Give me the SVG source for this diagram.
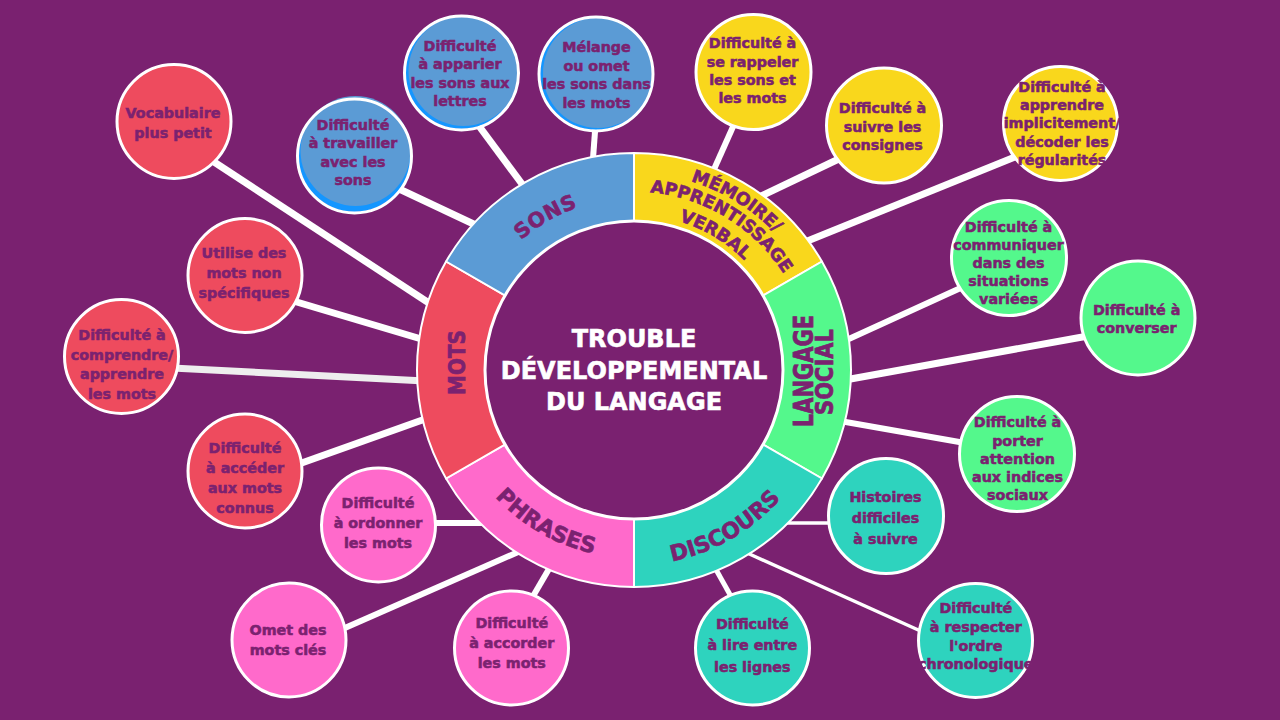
<svg xmlns="http://www.w3.org/2000/svg" xmlns:xlink="http://www.w3.org/1999/xlink" width="1280" height="720" viewBox="0 0 1280 720">
<style>
.bg{fill:#7A2170}
.conn line{stroke:#fff;stroke-width:7}
.conn line.thin{stroke-width:3.5}
.ring path{stroke:#fff;stroke-width:2;stroke-linejoin:round}
.n{stroke:#fff;stroke-width:3}
.rim{fill:none;stroke:#fff;stroke-width:3}
.t{font-family:"DejaVu Sans",Verdana,sans-serif;font-weight:bold;font-size:14.3px;fill:#7B2270;stroke:#7B2270;stroke-width:0.55;text-anchor:middle}
.seg{font-family:"DejaVu Sans",Verdana,sans-serif;font-weight:bold;fill:#7B2270;stroke:#7B2270;stroke-width:0.6;text-anchor:middle}
.ctr{font-family:"DejaVu Sans",Verdana,sans-serif;font-weight:bold;font-size:24px;fill:#fff;stroke:#fff;stroke-width:0.6;text-anchor:middle}
.red{fill:#EE4B5E}.pink{fill:#FF6ACB}.blue{fill:#5B9BD5}.bright{fill:#1496FF}.yel{fill:#F9D71C}.grn{fill:#54F88C}.teal{fill:#2ED3BE}
</style>
<defs>
<path id="pSons" d="M 485.05 284 A 172 172 0 0 1 634 198"/>
<path id="pMem1" d="M 616.79 173.26 A 197.5 197.5 0 0 1 815.80 295.17"/>
<path id="pMem2" d="M 618.49 192.17 A 178.5 178.5 0 0 1 798.31 301.75"/>
<path id="pMem3" d="M 620.45 215.09 A 155.5 155.5 0 0 1 777.14 309.24"/>
<path id="pPhr" d="M 457.34 434.30 A 188 188 0 0 0 666.65 555.14"/>
<path id="pDis" d="M 600.14 562.04 A 195 195 0 0 0 817.24 436.69"/>
</defs>
<rect class="bg" x="0" y="0" width="1280" height="720"/>

<g id="connectors" class="conn">
<line x1="395" y1="187" x2="482" y2="228"/>
<line x1="479" y1="126" x2="528" y2="192"/>
<line x1="595.5" y1="125" x2="592.5" y2="165" style="stroke-width:6"/>
<line x1="736" y1="120" x2="711" y2="176" style="stroke-width:6"/>
<line x1="845" y1="156" x2="755" y2="199"/>
<line x1="1020" y1="155" x2="800" y2="244"/>
<line x1="965" y1="286" x2="840" y2="343" style="stroke-width:6"/>
<line x1="1088" y1="336" x2="845" y2="380"/>
<line x1="965" y1="443" x2="840" y2="421" style="stroke-width:6"/>
<line class="thin" x1="835" y1="523" x2="785" y2="523"/>
<line x1="714" y1="566" x2="733" y2="600" style="stroke-width:5"/>
<line class="thin" x1="745" y1="552" x2="925" y2="633"/>
<line x1="430" y1="523" x2="490" y2="523" style="stroke-width:6"/>
<line x1="338" y1="631" x2="525" y2="549" style="stroke-width:6"/>
<line x1="532" y1="598" x2="553" y2="562" style="stroke-width:6"/>
<line x1="208" y1="158" x2="435" y2="307"/>
<line x1="290" y1="300" x2="428" y2="341"/>
<line x1="172" y1="368" x2="425" y2="381" style="stroke:#EEEEEE"/>
<line x1="296" y1="465" x2="428" y2="418"/>
</g>

<g id="ring" class="ring">
<path class="yel" d="M 634 370 L 634 153 A 217 217 0 0 1 821.93 261.5 Z"/>
<path class="grn" d="M 634 370 L 821.93 261.5 A 217 217 0 0 1 821.93 478.5 Z"/>
<path class="teal" d="M 634 370 L 821.93 478.5 A 217 217 0 0 1 634 587 Z"/>
<path class="pink" d="M 634 370 L 634 587 A 217 217 0 0 1 446.07 478.5 Z"/>
<path class="red" d="M 634 370 L 446.07 478.5 A 217 217 0 0 1 446.07 261.5 Z"/>
<path class="blue" d="M 634 370 L 446.07 261.5 A 217 217 0 0 1 634 153 Z"/>
<text class="seg" font-size="20.5" letter-spacing="0.5"><textPath xlink:href="#pSons" href="#pSons" startOffset="50%">SONS</textPath></text>
<text class="seg" font-size="17.5"><textPath xlink:href="#pMem1" href="#pMem1" startOffset="50%">MÉMOIRE/</textPath></text>
<text class="seg" font-size="17.5"><textPath xlink:href="#pMem2" href="#pMem2" startOffset="50%">APPRENTISSAGE</textPath></text>
<text class="seg" font-size="17.5"><textPath xlink:href="#pMem3" href="#pMem3" startOffset="50%">VERBAL</textPath></text>
<text class="seg" font-size="22"><textPath xlink:href="#pPhr" href="#pPhr" startOffset="50%">PHRASES</textPath></text>
<text class="seg" font-size="22"><textPath xlink:href="#pDis" href="#pDis" startOffset="50%">DISCOURS</textPath></text>
<text class="seg" font-size="20" transform="translate(465,362.5) rotate(-90) scale(1,1.15)">MOTS</text>
<text class="seg" font-size="21" transform="translate(813,371) rotate(-90) scale(1,1.25)">LANGAGE</text>
<text class="seg" font-size="21" transform="translate(833,372) rotate(-90) scale(1,1.2)">SOCIAL</text>
</g>

<g id="center">
<circle cx="634" cy="370" r="149" fill="#7A2170" stroke="#fff" stroke-width="3"/>
<text class="ctr" x="634" y="347">TROUBLE</text>
<text class="ctr" x="634" y="378.5">DÉVELOPPEMENTAL</text>
<text class="ctr" x="634" y="410">DU LANGAGE</text>
</g>

<g id="n1">
<circle class="bright" cx="354.5" cy="156" r="56"/>
<circle class="blue" cx="355.5" cy="151" r="55"/>
<circle class="rim" cx="354.5" cy="156" r="57"/>
<text class="t" x="353" y="130">Difficulté</text>
<text class="t" x="353" y="148.3">à travailler</text>
<text class="t" x="353" y="166.7">avec les</text>
<text class="t" x="353" y="185">sons</text>
</g>
<g id="n2">
<circle class="bright" cx="461.5" cy="73" r="56"/>
<circle class="blue" cx="463.5" cy="71" r="55"/>
<circle class="rim" cx="461.5" cy="73" r="57"/>
<text class="t" x="460" y="51">Difficulté</text>
<text class="t" x="460" y="69.3">à apparier</text>
<text class="t" x="460" y="87.7">les sons aux</text>
<text class="t" x="460" y="106">lettres</text>
</g>
<g id="n3">
<circle class="bright" cx="596" cy="74" r="56"/>
<circle class="blue" cx="598" cy="73" r="55"/>
<circle class="rim" cx="596" cy="74" r="57"/>
<text class="t" x="596.5" y="52.3">Mélange</text>
<text class="t" x="596.5" y="71">ou omet</text>
<text class="t" x="596.5" y="89.3">les sons dans</text>
<text class="t" x="596.5" y="107.7">les mots</text>
</g>

<g id="n4">
<circle class="n yel" cx="753.5" cy="72" r="57.5"/>
<text class="t" x="752.5" y="48.3">Difficulté à</text>
<text class="t" x="752.5" y="66.7">se rappeler</text>
<text class="t" x="752.5" y="85">les sons et</text>
<text class="t" x="752.5" y="103.3">les mots</text>
</g>
<g id="n5">
<circle class="n yel" cx="884" cy="125.5" r="57.5"/>
<text class="t" x="882.5" y="113.3">Difficulté à</text>
<text class="t" x="882.5" y="131.7">suivre les</text>
<text class="t" x="882.5" y="150">consignes</text>
</g>
<g id="n6">
<circle class="n yel" cx="1060.5" cy="123.5" r="57"/>
<text class="t" x="1062" y="91.7" font-size="13.5">Difficulté à</text>
<text class="t" x="1062" y="110" font-size="13.5">apprendre</text>
<text class="t" x="1062" y="128.3" font-size="13.5">implicitement/</text>
<text class="t" x="1062" y="146.7" font-size="13.5">décoder les</text>
<text class="t" x="1062" y="165" font-size="13.5">régularités</text>
</g>

<g id="n7">
<circle class="n grn" cx="1009" cy="258" r="57.5"/>
<text class="t" x="1008.5" y="231.7" font-size="13.5">Difficulté à</text>
<text class="t" x="1008.5" y="250" font-size="13.5">communiquer</text>
<text class="t" x="1008.5" y="267.7" font-size="13.5">dans des</text>
<text class="t" x="1008.5" y="285.7" font-size="13.5">situations</text>
<text class="t" x="1008.5" y="303.7" font-size="13.5">variées</text>
</g>
<g id="n8">
<circle class="n grn" cx="1138" cy="318" r="57"/>
<text class="t" x="1136.7" y="315">Difficulté à</text>
<text class="t" x="1136.7" y="333.3">converser</text>
</g>
<g id="n9">
<circle class="n grn" cx="1017" cy="454" r="57.5"/>
<text class="t" x="1017.5" y="427.3">Difficulté à</text>
<text class="t" x="1017.5" y="445.7">porter</text>
<text class="t" x="1017.5" y="464">attention</text>
<text class="t" x="1017.5" y="482.3">aux indices</text>
<text class="t" x="1017.5" y="500">sociaux</text>
</g>

<g id="n10">
<circle class="n teal" cx="886" cy="516" r="57.5"/>
<text class="t" x="885.5" y="501.7">Histoires</text>
<text class="t" x="885.5" y="523.3">difficiles</text>
<text class="t" x="885.5" y="544.3">à suivre</text>
</g>
<g id="n11">
<circle class="n teal" cx="752.5" cy="648" r="57"/>
<text class="t" x="752.3" y="629">Difficulté</text>
<text class="t" x="752.3" y="650">à lire entre</text>
<text class="t" x="752.3" y="671.7">les lignes</text>
</g>
<g id="n12">
<circle class="n teal" cx="975.5" cy="640.5" r="57"/>
<text class="t" x="975.8" y="613" font-size="13">Difficulté</text>
<text class="t" x="975.8" y="632" font-size="13">à respecter</text>
<text class="t" x="975.8" y="650.5" font-size="13">l'ordre</text>
<text class="t" x="975.8" y="669" font-size="13">chronologique</text>
</g>

<g id="n13">
<circle class="n pink" cx="378.5" cy="525" r="57"/>
<text class="t" x="378" y="508.3">Difficulté</text>
<text class="t" x="378" y="528.3">à ordonner</text>
<text class="t" x="378" y="548.3">les mots</text>
</g>
<g id="n14">
<circle class="n pink" cx="289" cy="640" r="57"/>
<text class="t" x="288" y="635">Omet des</text>
<text class="t" x="288" y="655">mots clés</text>
</g>
<g id="n15">
<circle class="n pink" cx="511.5" cy="648" r="57"/>
<text class="t" x="511.8" y="628.3">Difficulté</text>
<text class="t" x="511.8" y="648.3">à accorder</text>
<text class="t" x="511.8" y="667.7">les mots</text>
</g>

<g id="n16">
<circle class="n red" cx="174" cy="121.5" r="57"/>
<text class="t" x="173" y="117.7">Vocabulaire</text>
<text class="t" x="173" y="137.7">plus petit</text>
</g>
<g id="n17">
<circle class="n red" cx="245" cy="275.5" r="57"/>
<text class="t" x="244" y="257.7">Utilise des</text>
<text class="t" x="244" y="277.7">mots non</text>
<text class="t" x="244" y="297.7">spécifiques</text>
</g>
<g id="n18">
<circle class="n red" cx="121.5" cy="356.5" r="57"/>
<text class="t" x="122" y="340">Difficulté à</text>
<text class="t" x="122" y="360">comprendre/</text>
<text class="t" x="122" y="379.3">apprendre</text>
<text class="t" x="122" y="399">les mots</text>
</g>
<g id="n19">
<circle class="n red" cx="245" cy="471" r="57"/>
<text class="t" x="245" y="453.3">Difficulté</text>
<text class="t" x="245" y="473.3">à accéder</text>
<text class="t" x="245" y="493.3">aux mots</text>
<text class="t" x="245" y="513.3">connus</text>
</g>
</svg>
